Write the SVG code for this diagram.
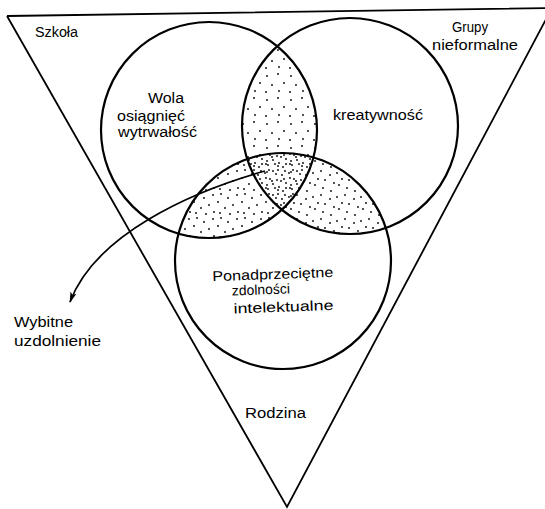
<svg xmlns="http://www.w3.org/2000/svg" width="545" height="509" viewBox="0 0 545 509">
<style>
.ring{fill:none;stroke:#000;stroke-width:2.2}
.tri{fill:none;stroke:#000;stroke-width:1.8;stroke-linejoin:miter}
.lbl{font-family:"Liberation Sans","DejaVu Sans",Arial,sans-serif;font-size:14px;fill:#000}
.conn{fill:none;stroke:#000;stroke-width:1.7}
</style>
<defs>
<clipPath id="clipA"><circle cx="209" cy="130" r="108"/></clipPath>
<clipPath id="clipB"><circle cx="350" cy="126" r="108"/></clipPath>
<clipPath id="clipC"><circle cx="283" cy="261" r="108"/></clipPath>
<pattern id="p1" width="24" height="24" patternUnits="userSpaceOnUse">
<g fill="#000">
<circle cx="3" cy="4" r="0.9"/><circle cx="14" cy="2" r="0.9"/><circle cx="20" cy="11" r="0.9"/>
<circle cx="8" cy="13" r="0.9"/><circle cx="2" cy="20" r="0.9"/><circle cx="15" cy="19" r="0.9"/>
</g>
</pattern>
<pattern id="p2" width="24" height="24" patternUnits="userSpaceOnUse">
<g fill="#000">
<circle cx="5" cy="2" r="0.9"/><circle cx="12" cy="6" r="0.9"/><circle cx="21" cy="3" r="0.9"/>
<circle cx="2" cy="10" r="0.9"/><circle cx="17" cy="13" r="0.9"/><circle cx="9" cy="16" r="0.9"/>
<circle cx="22" cy="20" r="0.9"/><circle cx="4" cy="21" r="0.9"/><circle cx="14" cy="22" r="0.9"/>
</g>
</pattern>
<pattern id="p3" width="24" height="24" patternUnits="userSpaceOnUse">
<g fill="#000">
<circle cx="1" cy="5" r="0.9"/><circle cx="9" cy="3" r="0.9"/><circle cx="18" cy="7" r="0.9"/>
<circle cx="6" cy="11" r="0.9"/><circle cx="13" cy="12" r="0.9"/><circle cx="22" cy="15" r="0.9"/>
<circle cx="3" cy="17" r="0.9"/><circle cx="11" cy="20" r="0.9"/><circle cx="19" cy="23" r="0.9"/>
</g>
</pattern>
<marker id="arrow" markerWidth="12" markerHeight="8" refX="10" refY="4" orient="auto" markerUnits="userSpaceOnUse">
<path d="M0,0.8 L11,4 L0,7.2 L2.5,4 Z" fill="#000"/>
</marker>
</defs>

<g id="stipple">
<g clip-path="url(#clipA)"><rect x="0" y="0" width="545" height="509" fill="url(#p1)" clip-path="url(#clipB)"/></g>
<g clip-path="url(#clipA)"><rect x="0" y="0" width="545" height="509" fill="url(#p2)" clip-path="url(#clipC)"/></g>
<g clip-path="url(#clipB)"><rect x="0" y="0" width="545" height="509" fill="url(#p3)" clip-path="url(#clipC)"/></g>
</g>

<g id="triangle">
<path class="tri" d="M7,16 L552,8 M7,16 L287,507 L552,8"/>
</g>

<g id="szkola"><text class="lbl" x="35" y="37" textLength="43" lengthAdjust="spacingAndGlyphs">Szkoła</text></g>
<g id="grupy-nieformalne">
<text class="lbl" x="452" y="32" textLength="36" lengthAdjust="spacingAndGlyphs">Grupy</text>
<text class="lbl" x="432" y="50" textLength="86" lengthAdjust="spacingAndGlyphs">nieformalne</text>
</g>
<g id="rodzina"><text class="lbl" x="245" y="418" textLength="61" lengthAdjust="spacingAndGlyphs">Rodzina</text></g>

<g id="wola">
<circle class="ring" cx="209" cy="130" r="108"/>
<text class="lbl" x="148" y="103" textLength="36" lengthAdjust="spacingAndGlyphs">Wola</text>
<text class="lbl" x="117" y="121" textLength="68" lengthAdjust="spacingAndGlyphs">osiągnięć</text>
<text class="lbl" x="118" y="137" textLength="79" lengthAdjust="spacingAndGlyphs">wytrwałość</text>
</g>

<g id="kreatywnosc">
<circle class="ring" cx="350" cy="126" r="108"/>
<text class="lbl" x="333" y="120" textLength="90" lengthAdjust="spacingAndGlyphs">kreatywność</text>
</g>

<g id="zdolnosci">
<circle class="ring" cx="283" cy="261" r="108"/>
<g transform="rotate(-2 273 293)">
<text class="lbl" x="213" y="279" textLength="121" lengthAdjust="spacingAndGlyphs">Ponadprzeciętne</text>
<text class="lbl" x="232" y="294" textLength="58" lengthAdjust="spacingAndGlyphs">zdolności</text>
<text class="lbl" x="233" y="312" textLength="100" lengthAdjust="spacingAndGlyphs">intelektualne</text>
</g>
</g>

<g id="connectors">
<path class="conn" d="M265,171 C190,192 95,235 70,302" marker-end="url(#arrow)"/>
</g>

<g id="wybitne">
<text class="lbl" x="14" y="327" textLength="59" lengthAdjust="spacingAndGlyphs">Wybitne</text>
<text class="lbl" x="14" y="346" textLength="87" lengthAdjust="spacingAndGlyphs">uzdolnienie</text>
</g>
</svg>
